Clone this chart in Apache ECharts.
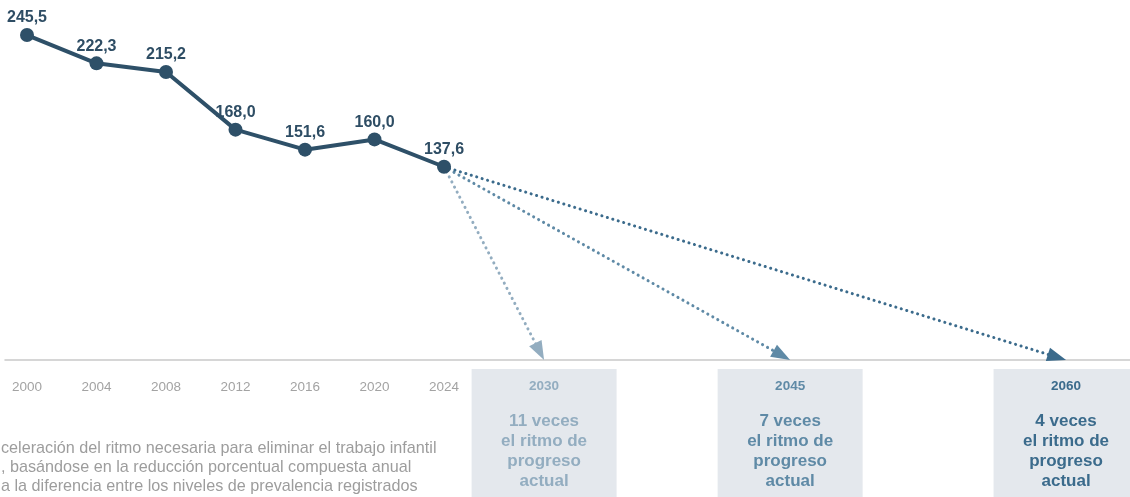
<!DOCTYPE html>
<html>
<head>
<meta charset="utf-8">
<script src="https://cdn.jsdelivr.net/npm/echarts@6/dist/echarts.min.js"></script>
<style>
  html, body { margin: 0; padding: 0; background: #fff; }
  #chart { width: 1130px; height: 497px; }
</style>
</head>
<body>
<div id="chart"></div>
<script>
  // datos históricos (millones)
  const years = ['2000', '2004', '2008', '2012', '2016', '2020', '2024']
  const values = [245.5, 222.3, 215.2, 168.0, 151.6, 160.0, 137.6]
  // metas y aceleración necesaria
  const targetYears = ['2030', '2045', '2060']
  const targetPace = ['11', '7', '4']
  const targetSlots = [7.44, 10.98, 14.95]
  const targetColors = ['#93adc0', '#5f8aa6', '#3b6b8c']
  const footnote = [
    'celeración del ritmo necesaria para eliminar el trabajo infantil',
    ', basándose en la reducción porcentual compuesta anual',
    'a la diferencia entre los niveles de prevalencia registrados'
  ]

  const Y_MIN = -20.7
  const Y_MAX = 270.1
  const lineColor = '#2e5068'
  const font = '"Liberation Sans", Arial, sans-serif'
  const arrowLen = 19

  const chart = echarts.init(document.getElementById('chart'))
  const last = values.length - 1

  chart.setOption({
    animation: false,
    grid: { left: 5, right: 0, top: 5, bottom: 137 },
    xAxis: {
      type: 'value',
      min: -0.3165,
      max: 15.87,
      axisLine: { show: true, onZero: false, lineStyle: { color: '#c9c9c9', width: 1.5 } },
      axisTick: { show: false },
      splitLine: { show: false },
      axisLabel: {
        customValues: years.map((y, i) => i),
        formatter: v => years[Math.round(v)] || '',
        color: '#a3a3a3',
        fontSize: 13.5,
        fontFamily: font,
        margin: 20
      }
    },
    yAxis: {
      type: 'value',
      min: Y_MIN,
      max: Y_MAX,
      show: false
    },
    series: [
      {
        type: 'line',
        data: values.map((v, i) => [i, v]),
        symbol: 'circle',
        symbolSize: 14,
        z: 5,
        lineStyle: { color: lineColor, width: 4 },
        itemStyle: { color: lineColor },
        label: {
          show: true,
          position: 'top',
          distance: 2,
          formatter: p => p.value[1].toFixed(1).replace('.', ','),
          color: '#2e4d64',
          fontWeight: 'bold',
          fontSize: 16,
          fontFamily: font
        }
      }
    ]
  })

  // flechas punteadas: la punta del triángulo toca el eje
  const start = chart.convertToPixel({ gridIndex: 0 }, [last, values[last]])
  const arrows = targetSlots.map((s, i) => {
    const end = chart.convertToPixel({ gridIndex: 0 }, [s, Y_MIN])
    const dx = end[0] - start[0]
    const dy = end[1] - start[1]
    const len = Math.sqrt(dx * dx + dy * dy)
    const back = arrowLen / 2
    const endCoord = chart.convertFromPixel({ gridIndex: 0 }, [end[0] - dx / len * back, end[1] - dy / len * back])
    return [
      {
        coord: [last, values[last]],
        lineStyle: { color: targetColors[i], type: [0.1, 5.6], cap: 'round', width: 3 }
      },
      { coord: endCoord }
    ]
  })

  // cajas con las metas bajo el eje
  const graphic = []
  targetSlots.forEach((s, i) => {
    const cx = chart.convertToPixel({ gridIndex: 0 }, [s, Y_MIN])[0]
    graphic.push({
      type: 'rect',
      shape: { x: cx - 72.5, y: 369, width: 145, height: 140 },
      style: { fill: '#e4e8ed' }
    })
    graphic.push({
      type: 'text',
      style: {
        text: targetYears[i], x: cx, y: 386, align: 'center', verticalAlign: 'middle',
        font: 'bold 13.5px ' + font, fill: targetColors[i]
      }
    })
    const lines = [targetPace[i] + ' veces', 'el ritmo de', 'progreso', 'actual']
    lines.forEach((t, j) => {
      graphic.push({
        type: 'text',
        style: {
          text: t, x: cx, y: 421 + j * 20, align: 'center', verticalAlign: 'middle',
          font: 'bold 17px ' + font, fill: targetColors[i]
        }
      })
    })
  })
  footnote.forEach((t, j) => {
    graphic.push({
      type: 'text',
      style: {
        text: t, x: 1, y: 449 + j * 19, align: 'left', verticalAlign: 'middle',
        font: '16.2px ' + font, fill: '#9d9d9d'
      }
    })
  })

  chart.setOption({
    graphic: graphic,
    series: [
      {},
      {
        type: 'line',
        data: [],
        markLine: {
          silent: true,
          symbol: ['none', 'triangle'],
          symbolSize: [14, arrowLen],
          label: { show: false },
          data: arrows
        }
      }
    ]
  })
</script>
</body>
</html>
